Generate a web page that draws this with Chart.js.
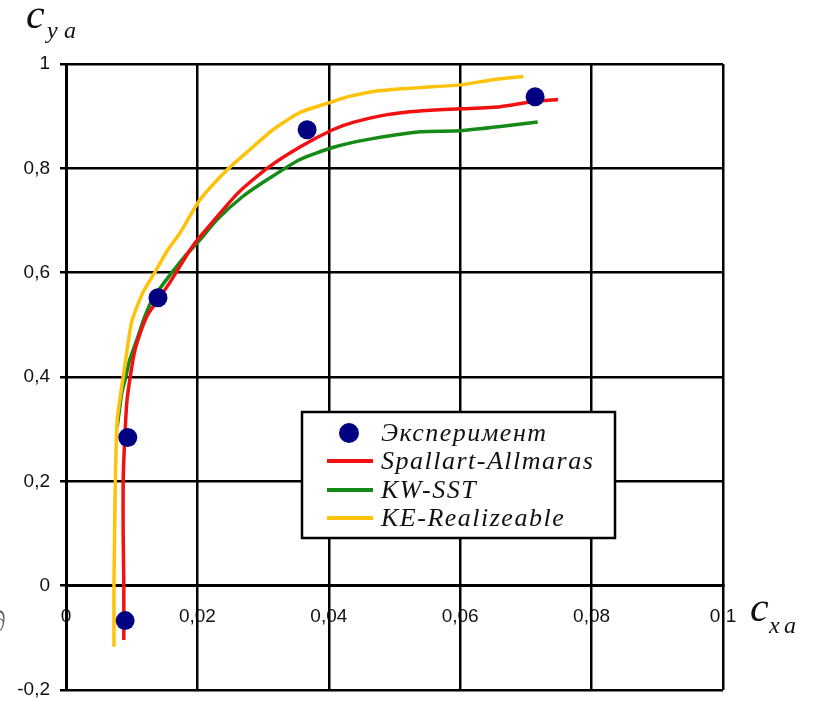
<!DOCTYPE html>
<html>
<head>
<meta charset="utf-8">
<script src="https://cdn.jsdelivr.net/npm/chart.js@4/dist/chart.umd.min.js"></script>
<style>
  html, body { margin: 0; padding: 0; background: #fff; }
  #wrap { width: 813px; height: 701px; }
</style>
</head>
<body>
<div id="wrap"><canvas id="polar" width="813" height="701"></canvas></div>
<script>
// Drag polar: lift coefficient c_ya versus drag coefficient c_xa
const expCx = [0.0090, 0.0094, 0.0140, 0.0367, 0.0714];
const expCy = [-0.067, 0.284, 0.552, 0.874, 0.937];

const saCx = [0.0088, 0.0088, 0.0087, 0.0087, 0.0089, 0.0093, 0.0105, 0.0123, 0.0158, 0.0189, 0.0204, 0.0262, 0.0306, 0.0356, 0.0406, 0.0437, 0.0489, 0.0539, 0.0600, 0.0661, 0.0711, 0.0749];
const saCy = [-0.104, 0.000, 0.100, 0.197, 0.270, 0.357, 0.452, 0.516, 0.581, 0.644, 0.669, 0.753, 0.800, 0.841, 0.874, 0.888, 0.903, 0.910, 0.914, 0.918, 0.928, 0.932];

const sstCx = [0.0078, 0.0085, 0.0091, 0.0097, 0.0108, 0.0120, 0.0133, 0.0161, 0.0180, 0.0204, 0.0230, 0.0269, 0.0306, 0.0356, 0.0406, 0.0458, 0.0539, 0.0600, 0.0661, 0.0718];
const sstCy = [0.305, 0.370, 0.400, 0.433, 0.472, 0.516, 0.552, 0.600, 0.630, 0.663, 0.702, 0.746, 0.778, 0.817, 0.840, 0.855, 0.870, 0.872, 0.880, 0.889];

const keCx = [0.0073, 0.0073, 0.0074, 0.0075, 0.0078, 0.0087, 0.0093, 0.0100, 0.0117, 0.0135, 0.0155, 0.0174, 0.0204, 0.0245, 0.0280, 0.0315, 0.0356, 0.0406, 0.0428, 0.0478, 0.0539, 0.0600, 0.0650, 0.0696];
const keCy = [-0.117, 0.000, 0.100, 0.197, 0.318, 0.400, 0.452, 0.506, 0.562, 0.600, 0.644, 0.677, 0.740, 0.797, 0.836, 0.874, 0.907, 0.928, 0.937, 0.949, 0.955, 0.960, 0.970, 0.976];

const seriesNames = ['Эксперимент', 'Spallart-Allmaras', 'KW-SST', 'KE-Realizeable'];
const xTickLabels = ['0', '0,02', '0,04', '0,06', '0,08', '0,1'];
const yTickLabels = ['-0,2', '0', '0,2', '0,4', '0,6', '0,8', '1'];

const pts = (xs, ys) => xs.map((x, i) => ({ x: x, y: ys[i] }));

const SERIF = '"Liberation Serif", "DejaVu Serif", serif';
const SANS = '"Liberation Sans", Arial, sans-serif';

// Axis symbols c_ya / c_xa and the legend box drawn on top of the plot
const decorPlugin = {
  id: 'decor',
  afterDraw(chart) {
    const ctx = chart.ctx;
    ctx.save();
    ctx.fillStyle = '#111';
    ctx.textBaseline = 'alphabetic';
    ctx.textAlign = 'left';

    // y symbol
    ctx.font = 'italic 42px ' + SERIF;
    ctx.fillText('c', 26, 28);
    ctx.font = 'italic 24px ' + SERIF;
    ctx.fillText('y', 47, 38);
    ctx.fillText('a', 64, 38);

    // x symbol
    ctx.font = 'italic 42px ' + SERIF;
    ctx.fillText('c', 750, 621);
    ctx.font = 'italic 24px ' + SERIF;
    ctx.fillText('x', 769, 633);
    ctx.fillText('a', 784, 633);

    // clipped glyph at the left margin
    ctx.fillStyle = '#555';
    ctx.font = 'italic 30px ' + SERIF;
    ctx.fillText('\u2202', -9, 632);

    // legend
    const ds = chart.data.datasets;
    const bx = 302, by = 412, bw = 313, bh = 126;
    ctx.fillStyle = '#fff';
    ctx.fillRect(bx, by, bw, bh);
    ctx.strokeStyle = '#000';
    ctx.lineWidth = 2.5;
    ctx.strokeRect(bx, by, bw, bh);
    const rows = [433, 461, 490, 518];
    ctx.font = 'italic 26px ' + SERIF;
    ctx.letterSpacing = '1.5px';
    ctx.textBaseline = 'middle';
    ds.forEach((d, i) => {
      const y = rows[i];
      if (i === 0) {
        ctx.beginPath();
        ctx.fillStyle = d.backgroundColor;
        ctx.arc(349, y, 10, 0, Math.PI * 2);
        ctx.fill();
      } else {
        ctx.strokeStyle = d.borderColor;
        ctx.lineWidth = 4;
        ctx.beginPath();
        ctx.moveTo(327, y);
        ctx.lineTo(373, y);
        ctx.stroke();
      }
      ctx.fillStyle = '#111';
      ctx.fillText(d.label, 381, y + 1);
    });
    ctx.restore();
  }
};

const lineStyle = (color) => ({
  showLine: true,
  borderColor: color,
  backgroundColor: color,
  borderWidth: 3.5,
  pointRadius: 0,
  pointHoverRadius: 0,
  tension: 0.2,
  fill: false
});

new Chart(document.getElementById('polar'), {
  type: 'scatter',
  data: {
    datasets: [
      {
        label: seriesNames[0],
        data: pts(expCx, expCy),
        backgroundColor: '#000080',
        borderColor: '#000080',
        pointRadius: 9.5,
        pointBorderWidth: 0,
        showLine: false,
        order: 0
      },
      Object.assign({ label: seriesNames[1], data: pts(saCx, saCy), order: 1 }, lineStyle('#f21010')),
      Object.assign({ label: seriesNames[2], data: pts(sstCx, sstCy), order: 3 }, lineStyle('#168a16')),
      Object.assign({ label: seriesNames[3], data: pts(keCx, keCy), order: 2 }, lineStyle('#ffc20a'))
    ]
  },
  options: {
    responsive: false,
    animation: false,
    devicePixelRatio: 1,
    layout: { padding: { left: 0, right: 90, top: 64, bottom: 11 } },
    plugins: {
      legend: { display: false },
      tooltip: { enabled: false }
    },
    scales: {
      x: {
        type: 'linear',
        position: { y: 0 },
        min: 0,
        max: 0.1,
        border: { display: true, color: '#000', width: 3 },
        grid: { color: '#000', lineWidth: 2.5, drawTicks: false },
        ticks: {
          stepSize: 0.02,
          z: -2,
          padding: 20,
          color: '#111',
          font: { family: SANS, size: 19 },
          maxRotation: 0,
          callback: (v, i) => xTickLabels[i]
        },
        afterFit: (scale) => { scale.paddingTop = 0; scale.paddingBottom = 0; }
      },
      y: {
        type: 'linear',
        position: 'left',
        min: -0.2,
        max: 1,
        border: { display: true, color: '#000', width: 3 },
        grid: { color: '#000', lineWidth: 2.5, tickLength: 6 },
        ticks: {
          stepSize: 0.2,
          padding: 10,
          color: '#111',
          font: { family: SANS, size: 19 },
          callback: (v, i) => yTickLabels[i]
        },
        afterFit: (scale) => {
          scale.width = 66;
          scale.paddingTop = 0;
          scale.paddingBottom = 0;
        }
      }
    }
  },
  plugins: [decorPlugin]
});
</script>
</body>
</html>
